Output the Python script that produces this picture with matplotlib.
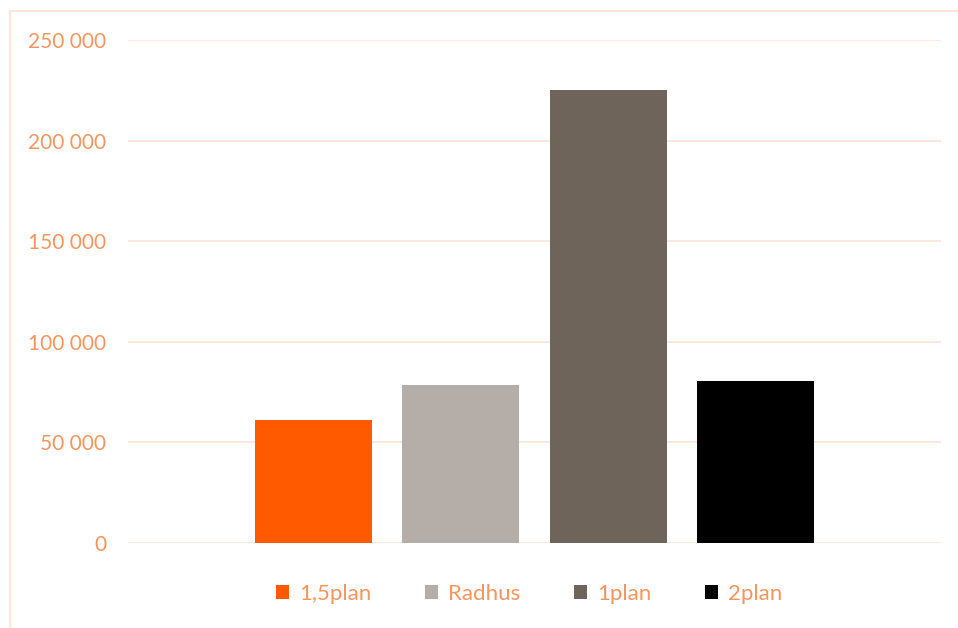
import matplotlib.pyplot as plt
from matplotlib.lines import Line2D
from matplotlib.ticker import FuncFormatter, MultipleLocator

# series (one bar each, single category)
labels = ['1,5plan', 'Radhus', '1plan', '2plan']
values = [61000, 78500, 225000, 80500]
colors = ['#FF5A00', '#B5ADA7', '#6E645A', '#000000']

text_color = '#F7955F'
grid_color = '#FDE6DA'

plt.rcParams['font.family'] = ['Lato', 'DejaVu Sans']

W, H = 958, 628
fig = plt.figure(figsize=(W / 100, H / 100), dpi=100)
ax = fig.add_axes([128 / W, 1 - 543 / H, (941 - 128) / W, (543 - 40) / H])

width = 0.144
step = 0.1814
for i, (lab, val, col) in enumerate(zip(labels, values, colors)):
    x = (i - 1.5) * step
    ax.bar(x, val, width=width, color=col, label=lab, zorder=3)

ax.set_xlim(-0.5, 0.5)
ax.set_ylim(0, 250000)
ax.yaxis.set_major_locator(MultipleLocator(50000))
ax.yaxis.set_major_formatter(FuncFormatter(lambda v, p: f'{int(v):,}'.replace(',', ' ')))
ax.grid(axis='y', color=grid_color, linewidth=1.3, zorder=0)
ax.set_xticks([])
ax.tick_params(axis='y', length=0, pad=15.5, labelcolor=text_color, labelsize=15)
for s in ax.spines.values():
    s.set_visible(False)

# chart frame (cut off at right and bottom)
fig.add_artist(Line2D([10 / W, 10 / W], [0, 1 - 11 / H], color=grid_color, lw=1.5))
fig.add_artist(Line2D([10 / W, 1], [1 - 11 / H, 1 - 11 / H], color=grid_color, lw=1.5))

leg = fig.legend(loc='center', bbox_to_anchor=(529 / W, 1 - 594 / H), ncol=4,
                 frameon=False, fontsize=16, handlelength=0.6, handleheight=0.6,
                 handletextpad=0.45, columnspacing=2.4, labelcolor=text_color)

fig.savefig('out.png', dpi=100)
